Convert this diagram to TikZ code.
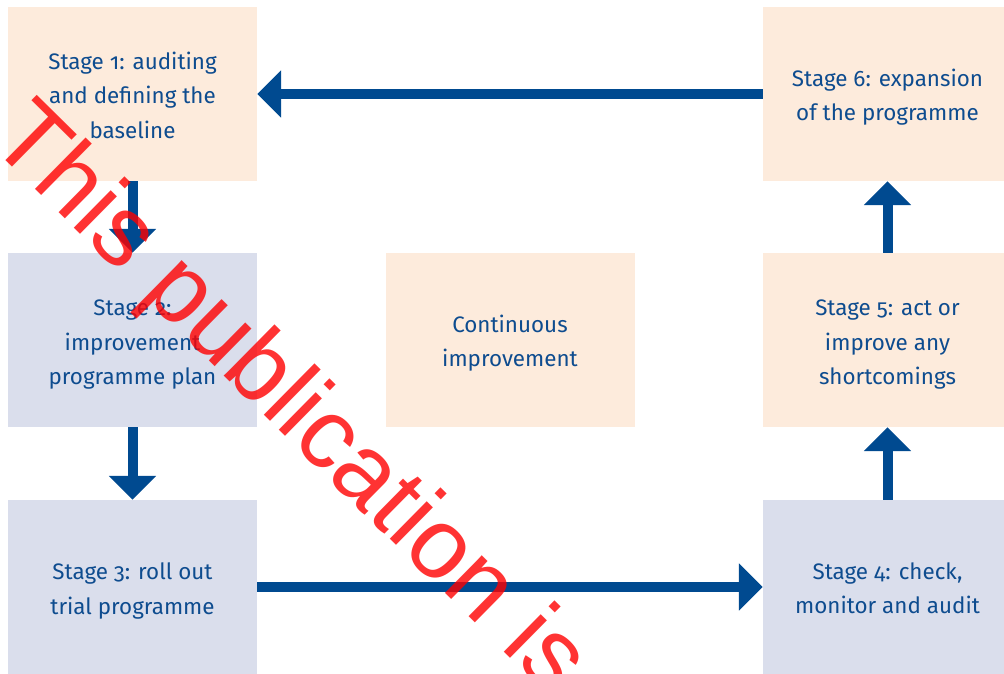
\documentclass[tikz,border=0pt]{standalone}
\usepackage{fontspec}
\setmainfont[Numbers=OldStyle]{Fira Sans}
\newfontfamily\wmfont{Liberation Sans}
\usetikzlibrary{arrows.meta}
\definecolor{peach}{HTML}{FDEBDC}
\definecolor{lav}{HTML}{DADEEC}
\definecolor{arrblue}{HTML}{004A90}
\definecolor{txtblue}{HTML}{0E4C8F}
\begin{document}
\begin{tikzpicture}[x=1pt,y=-1pt,
  box/.style={minimum width=249pt,minimum height=174pt,inner sep=0pt,draw=none},
  peachbox/.style={box,fill=peach},
  lavbox/.style={box,fill=lav},
  lbl/.style={inner sep=0pt,align=center,text=txtblue,
    font=\fontsize{22.4}{34.5}\selectfont},
  arr/.style={draw=arrblue,line width=10pt,
    -{Triangle[length=24pt,width=46pt,fill=arrblue]}},
  wm/.style={text=red,opacity=0.8,font=\wmfont\fontsize{99.6}{99.6}\selectfont,
    inner sep=0pt,anchor=base west,rotate=-44.6}]
\useasboundingbox (0,0) rectangle (1004,673);
\clip (0,0) rectangle (1004,673);
\node[peachbox] (s1) at (132.5,94) {};
\node[peachbox] (s6) at (887.5,94) {};
\node[lavbox] (s2) at (132.5,340) {};
\node[peachbox] (ci) at (510,340) {};
\node[peachbox] (s5) at (887.5,340) {};
\node[lavbox] (s3) at (132.5,587) {};
\node[lavbox] (s4) at (887.5,587) {};
\node[lbl] (t1) at ([yshift=-1pt]s1.center) {Stage 1: auditing\\and defining the\\baseline};
\node[lbl] (t6) at ([yshift=-3pt]s6.center) {Stage 6: expansion\\of the programme};
\node[lbl] (t2) at ([yshift=-5pt]s2.center) {Stage 2:\\improvement\\programme plan};
\node[lbl] (tc) at ([yshift=-3pt]ci.center) {Continuous\\improvement};
\node[lbl] (t5) at ([yshift=-5pt]s5.center) {Stage 5: act or\\improve any\\shortcomings};
\node[lbl] (t3) at ([yshift=-4pt]s3.center) {Stage 3: roll out\\trial programme};
\node[lbl] (t4) at ([yshift=-1pt]s4.center) {Stage 4: check,\\monitor and audit};
\draw[arr] (s6.west) -- (s1.east);
\draw[arr] (s1.south) -- (s2.north);
\draw[arr] (s2.south) -- (s3.north);
\draw[arr] (s3.east) -- (s4.west);
\draw[arr] (s4.north) -- (s5.south);
\draw[arr] (s5.north) -- (s6.south);
\node[wm] (wm) at (-13,142) {This publication is};
\end{tikzpicture}
\end{document}
